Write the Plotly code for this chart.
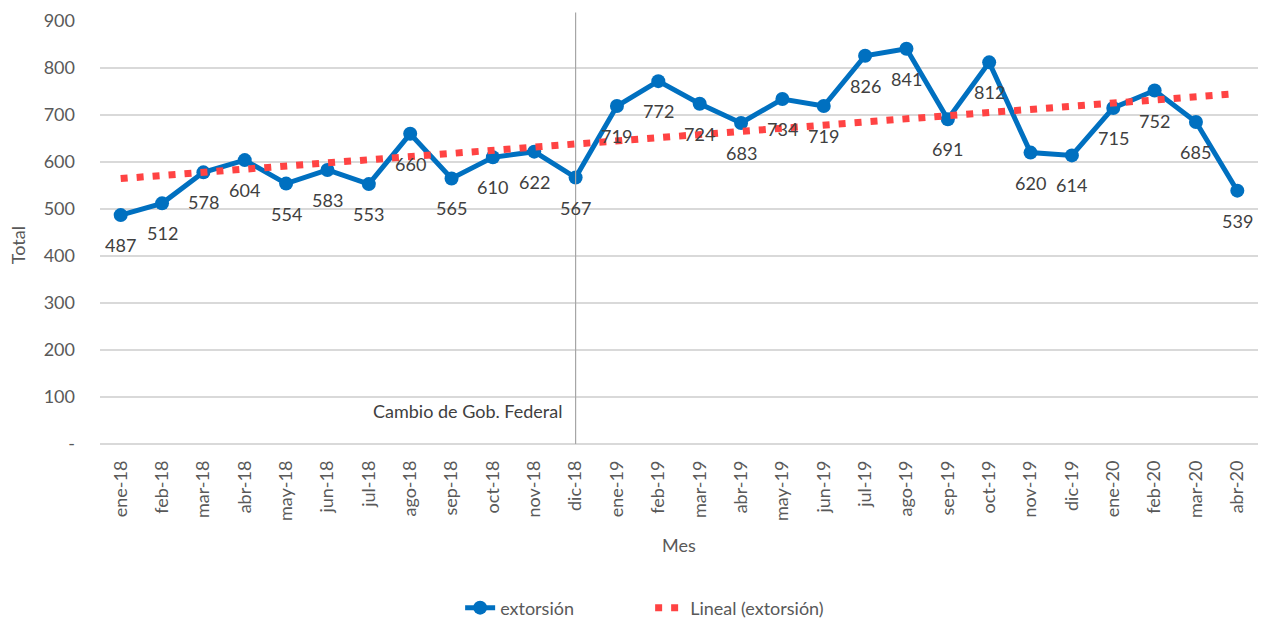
import numpy as np
import plotly.graph_objects as go

months = ["ene-18","feb-18","mar-18","abr-18","may-18","jun-18","jul-18","ago-18","sep-18","oct-18","nov-18","dic-18",
          "ene-19","feb-19","mar-19","abr-19","may-19","jun-19","jul-19","ago-19","sep-19","oct-19","nov-19","dic-19",
          "ene-20","feb-20","mar-20","abr-20"]
extorsion = [487,512,578,604,554,583,553,660,565,610,622,567,
             719,772,724,683,734,719,826,841,691,812,620,614,
             715,752,685,539]
y_ticks = [0,100,200,300,400,500,600,700,800,900]
y_ticktext = ["-","100","200","300","400","500","600","700","800","900"]
event_month = "dic-18"
event_label = "Cambio de Gob. Federal"

# linear trendline (least squares over the series)
idx = np.arange(1, len(extorsion) + 1)
slope, intercept = np.polyfit(idx, extorsion, 1)
trend = slope * idx + intercept

FONT = "Lato"
TXT = "#595959"

fig = go.Figure()
fig.add_trace(go.Scatter(
    x=months, y=extorsion, mode="lines+markers", name="extorsión",
    line=dict(color="#0070C0", width=5),
    marker=dict(color="#0070C0", size=14),
    cliponaxis=False,
))
fig.add_trace(go.Scatter(
    x=months, y=trend, mode="lines", name="Lineal (extorsión)",
    line=dict(color="#FF4343", width=7, dash="7px,9px"),
))

for m, v in zip(months, extorsion):
    fig.add_annotation(x=m, y=v, xref="x", yref="y", text=str(v), showarrow=False,
                       yshift=-30, font=dict(family=FONT, size=18, color="#404040"))

fig.add_shape(type="line", xref="x", yref="paper", x0=event_month, x1=event_month,
              y0=0, y1=1.02, line=dict(color="#A6A6A6", width=1.2))
fig.add_annotation(x=event_month, y=70, xref="x", yref="y", text=event_label,
                   showarrow=False, xanchor="right", yanchor="middle", xshift=-12,
                   font=dict(family=FONT, size=18, color="#404040"))

fig.add_annotation(x=0.5, y=-0.239, xref="paper", yref="paper", text="Mes", showarrow=False,
                   xanchor="center", yanchor="middle", font=dict(family=FONT, size=18, color=TXT))
fig.add_annotation(x=-0.0708, y=0.47, xref="paper", yref="paper", text="Total", showarrow=False,
                   textangle=-90, xanchor="center", yanchor="middle",
                   font=dict(family=FONT, size=18, color=TXT))

fig.update_layout(
    width=1261, height=621,
    margin=dict(l=100, r=3, t=21, b=177, autoexpand=False),
    plot_bgcolor="white", paper_bgcolor="white",
    font=dict(family=FONT, size=18, color=TXT),
    showlegend=True,
    legend=dict(orientation="h", x=0.311, xanchor="left", y=0.021, yref="container",
                yanchor="middle", entrywidth=145, entrywidthmode="pixels",
                font=dict(family=FONT, size=18, color=TXT)),
)
fig.update_xaxes(
    type="category", tickangle=-90, showgrid=False, showline=False, automargin=False,
    tickfont=dict(family=FONT, size=18, color=TXT),
    range=[-0.5, len(months) - 0.5], ticks="", ticklabelstandoff=12,
)
fig.update_yaxes(
    range=[0, 900], tickvals=y_ticks, ticktext=y_ticktext, automargin=False,
    showgrid=True, gridcolor="#D9D9D9", gridwidth=1.5, zeroline=True,
    zerolinecolor="#D9D9D9", zerolinewidth=1.5,
    tickfont=dict(family=FONT, size=18, color=TXT),
    ticklabelstandoff=24,
)

fig.write_html("out.html", config={"displayModeBar": False},
               post_script="document.body.style.margin='0';")
